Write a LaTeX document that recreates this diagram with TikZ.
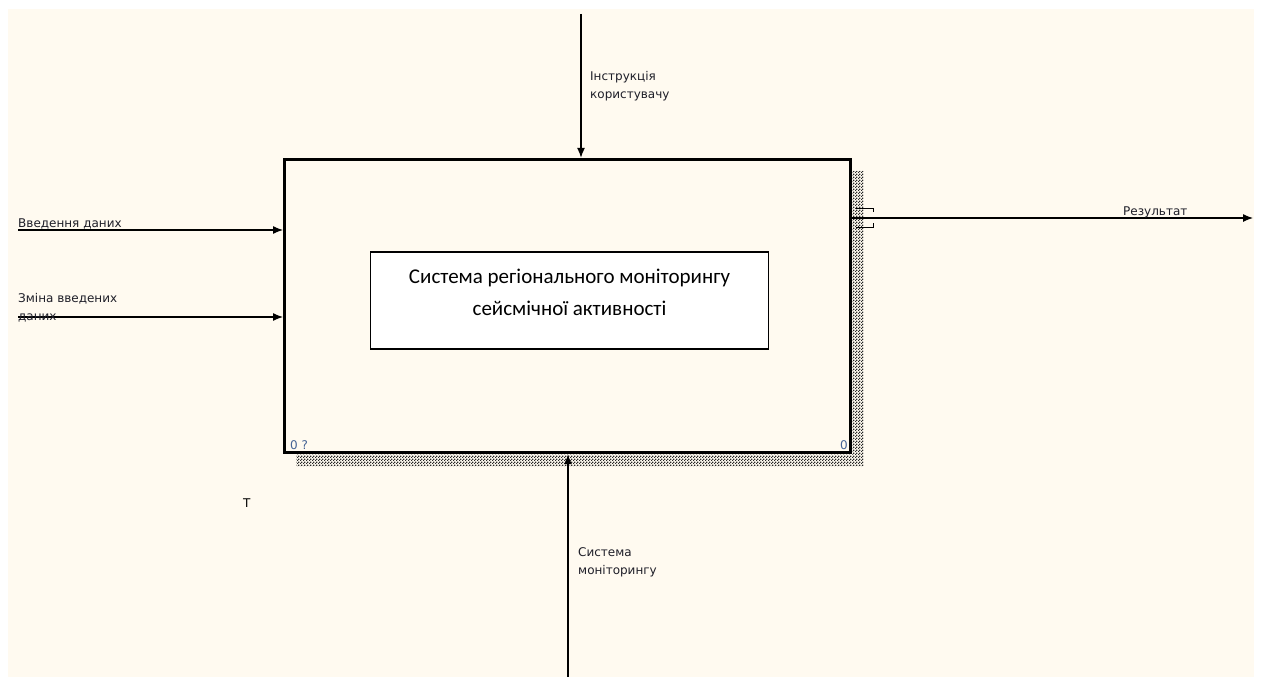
\documentclass[tikz,border=0pt]{standalone}
\usepackage{fontspec}
\setmainfont{DejaVu Sans}
\newfontfamily\calfont{Carlito}
\usetikzlibrary{arrows.meta,positioning,calc,patterns}

\definecolor{paper}{RGB}{255,250,240}
\definecolor{lblcol}{RGB}{30,30,40}
\definecolor{numcol}{RGB}{70,100,150}

% checkerboard used for the box shadow
\pgfdeclarepatternformonly{shadowdots}{\pgfqpoint{0pt}{0pt}}{\pgfqpoint{3pt}{3pt}}{\pgfqpoint{3pt}{3pt}}{%
  \pgfpathrectangle{\pgfqpoint{0pt}{0pt}}{\pgfqpoint{1.5pt}{1.5pt}}%
  \pgfpathrectangle{\pgfqpoint{1.5pt}{1.5pt}}{\pgfqpoint{1.5pt}{1.5pt}}%
  \pgfusepath{fill}}

\tikzset{
  arr/.style={-{Latex[length=10pt,width=8pt]}, line width=1.2pt},
  lbl/.style={font=\fontsize{12}{18}\selectfont, text=lblcol, inner sep=0pt, align=left, anchor=base west},
  numlbl/.style={lbl, text=numcol},
  funcbox/.style={rectangle, draw, line width=3pt, minimum width=565.5pt, minimum height=293.4pt, inner sep=0pt},
  namebox/.style={rectangle, draw, fill=white, line width=1.5pt, minimum width=398pt, minimum height=97pt},
  nametext/.style={font=\calfont\fontsize{21}{32}\selectfont, align=center, inner sep=0pt},
  shadow/.style={pattern=shadowdots, pattern color=black!85}
}

\begin{document}
\begin{tikzpicture}[x=1pt,y=-1pt]
    \useasboundingbox (0,0) rectangle (1261,677);
    \fill[paper] (8,9) rectangle (1254,677);

    % Function box with shadow
    \node[funcbox] (sys) at (567.25,306) {};
    \fill[shadow] ($(sys.north east)+(1,13)$) -- ($(sys.north east)+(12,13)$)
        -- ($(sys.south east)+(12,12)$) -- ($(sys.south west)+(13,12)$)
        -- ($(sys.south west)+(13,0.5)$) -- ($(sys.south east)+(1,0.5)$) -- cycle;

    % Name of the system
    \node[namebox] (name) at (569.5,300.5) {};
    \node[nametext] (nametxt) at ($(name.center)+(0,-8)$) {Система регіонального моніторингу\\сейсмічної активності};

    % Arrow ends
    \coordinate (instr) at (581,14);
    \coordinate (datain) at (18,230);
    \coordinate (editin) at (18,317);
    \coordinate (result) at (1253,218);
    \coordinate (monitor) at (568,677);

    % Arrows
    \draw[arr] (instr) -- (instr |- sys.north);
    \draw[arr] (datain) -- (datain -| sys.west);
    \draw[arr] (editin) -- (editin -| sys.west);
    \draw[arr] (result -| sys.east) -- (result);
    \draw[arr] (monitor) -- (monitor |- sys.south);

    % Tunnel brackets
    \draw[line width=1pt] ($(result -| sys.east)+(4,-10)$) -- ++(18,0) -- ++(0,4);
    \draw[line width=1pt] ($(result -| sys.east)+(4,9)$) -- ++(18,0) -- ++(0,-4);

    % Labels (base = last line)
    \node[lbl] (datalbl) at (18,227) {Введення даних};
    \node[lbl] (editlbl) at (18,320) {Зміна введених\\даних};
    \node[lbl] (instrlbl) at (590,99) {Інструкція\\користувачу};
    \node[lbl] (reslbl) at (1123,215) {Результат};
    \node[lbl] (monlbl) at (578,574) {Система\\моніторингу};
    \node[numlbl] (nodenum) at (290,449) {0 ?};
    \node[numlbl] (diagnum) at (840,449) {0};
    \node[lbl, text=black] (tmark) at (243,507) {T};
\end{tikzpicture}
\end{document}
